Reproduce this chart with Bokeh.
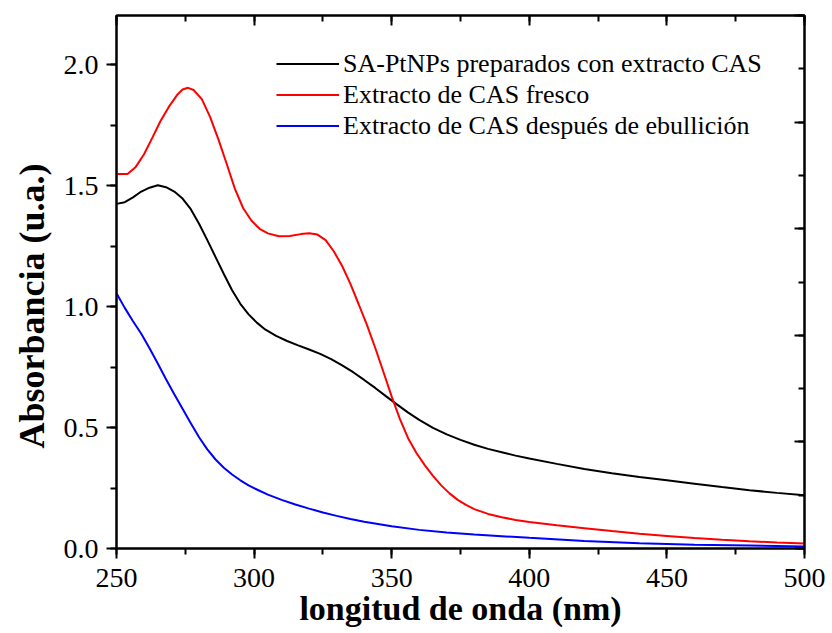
from bokeh.plotting import figure
from bokeh.models import (Range1d, LinearAxis, SingleIntervalTicker, Legend,
                          LegendItem, CustomJSTickFormatter, NumeralTickFormatter, Title)
from bokeh.embed import file_html
from bokeh.resources import INLINE

# UV-Vis absorption spectra (wavelength in nm, absorbance in a.u.)
wl_ptnps = [250, 253, 256, 259, 262, 265, 268, 271, 274, 277, 280, 283, 286, 289,
            292, 295, 298, 301, 304, 308, 312, 316, 320, 324, 328, 332, 336, 340,
            344, 348, 352, 356, 360, 365, 370, 375, 380, 385, 390, 395, 400, 410,
            420, 430, 440, 450, 460, 470, 480, 490, 500]
abs_ptnps = [1.425, 1.432, 1.452, 1.476, 1.492, 1.502, 1.494, 1.476, 1.447, 1.403,
             1.343, 1.275, 1.205, 1.135, 1.068, 1.012, 0.968, 0.934, 0.906, 0.879,
             0.858, 0.840, 0.823, 0.805, 0.783, 0.757, 0.729, 0.697, 0.664, 0.629,
             0.595, 0.562, 0.532, 0.499, 0.472, 0.449, 0.429, 0.412, 0.398, 0.384,
             0.372, 0.350, 0.329, 0.311, 0.296, 0.282, 0.268, 0.254, 0.241, 0.230,
             0.220]

wl_fresh = [250, 254, 257, 260, 263, 266, 269, 272, 274, 276, 278, 281, 284, 287,
            290, 293, 296, 299, 302, 305, 309, 313, 317, 320, 323, 326, 329, 332,
            335, 338, 341, 344, 347, 350, 353, 356, 359, 362, 365, 368, 371, 374,
            377, 380, 385, 390, 395, 400, 410, 420, 430, 440, 450, 460, 470, 480,
            490, 500]
abs_fresh = [1.549, 1.549, 1.578, 1.630, 1.698, 1.768, 1.826, 1.875, 1.898, 1.905,
             1.896, 1.858, 1.785, 1.693, 1.592, 1.488, 1.408, 1.356, 1.322, 1.303,
             1.291, 1.292, 1.300, 1.304, 1.298, 1.275, 1.228, 1.168, 1.094, 1.010,
             0.925, 0.830, 0.730, 0.628, 0.535, 0.455, 0.395, 0.345, 0.300, 0.261,
             0.228, 0.201, 0.180, 0.163, 0.143, 0.129, 0.118, 0.110, 0.096, 0.084,
             0.072, 0.061, 0.052, 0.043, 0.036, 0.030, 0.025, 0.021]

wl_boiled = [250, 253, 256, 259, 262, 265, 268, 271, 274, 277, 280, 283, 286, 289,
             292, 295, 298, 301, 305, 310, 315, 320, 325, 330, 335, 340, 350, 360,
             370, 380, 390, 400, 420, 440, 460, 480, 500]
abs_boiled = [1.055, 0.995, 0.940, 0.888, 0.828, 0.765, 0.700, 0.638, 0.578, 0.518,
              0.460, 0.410, 0.368, 0.334, 0.306, 0.282, 0.261, 0.244, 0.223, 0.201,
              0.182, 0.165, 0.149, 0.135, 0.122, 0.111, 0.092, 0.077, 0.066, 0.058,
              0.051, 0.044, 0.031, 0.022, 0.016, 0.012, 0.008]

labels = ["SA-PtNPs preparados con extracto CAS",
          "Extracto de CAS fresco",
          "Extracto de CAS después de ebullición"]
colors = ["#000000", "#ff0000", "#0000ff"]
x_title = "longitud de onda (nm)"
y_title = "Absorbancia (u.a.)"

SERIF = "Liberation Serif"

p = figure(width=832, height=633, x_range=Range1d(250, 500), y_range=Range1d(0, 2.204),
           output_backend="svg", toolbar_location=None,
           min_border_left=115, min_border_right=28, min_border_top=15, min_border_bottom=85)
p.grid.visible = False
p.outline_line_color = "black"
p.outline_line_width = 2
p.background_fill_color = "white"
p.border_fill_color = "white"

r1 = p.line(wl_ptnps, abs_ptnps, line_color=colors[0], line_width=2)
r2 = p.line(wl_fresh, abs_fresh, line_color=colors[1], line_width=2)
r3 = p.line(wl_boiled, abs_boiled, line_color=colors[2], line_width=2)


def style_axis(ax, inward=False):
    ax.axis_line_width = 2
    ax.axis_line_color = "black"
    ax.major_tick_line_width = 2
    ax.minor_tick_line_width = 2
    if inward:
        ax.major_tick_in, ax.major_tick_out = 10, 0
        ax.minor_tick_in, ax.minor_tick_out = 6, 0
    else:
        ax.major_tick_in, ax.major_tick_out = 0, 10
        ax.minor_tick_in, ax.minor_tick_out = 0, 6
    ax.major_label_text_font = SERIF
    ax.major_label_text_font_size = "28px"
    ax.major_label_text_color = "black"
    ax.axis_label_text_font = SERIF
    ax.axis_label_text_font_style = "bold"
    ax.axis_label_text_font_size = "34px"
    ax.axis_label_text_color = "black"


xax = p.xaxis[0]
xax.ticker = SingleIntervalTicker(interval=50, num_minor_ticks=2)
xax.axis_label = x_title
style_axis(xax)
xax.major_label_standoff = 10
xax.axis_label_standoff = 0

yax = p.yaxis[0]
yax.ticker = SingleIntervalTicker(interval=0.5, num_minor_ticks=2)
yax.formatter = NumeralTickFormatter(format="0.0")
style_axis(yax)
yax.major_label_standoff = 8

# y title, starting a fixed distance above the bottom of the frame
p.add_layout(Title(text=y_title, align="left", offset=100, standoff=18,
                   text_font=SERIF, text_font_style="bold", text_font_size="36px",
                   text_color="black"), "left")

# mirrored frame axes with inward ticks and no labels
top = LinearAxis(ticker=SingleIntervalTicker(interval=50, num_minor_ticks=2),
                 formatter=CustomJSTickFormatter(code="return ''"), major_label_standoff=0)
style_axis(top, inward=True)
top.major_label_text_font_size = "1px"
p.add_layout(top, "above")

p.extra_y_ranges = {"right": Range1d(0, 5)}
right = LinearAxis(y_range_name="right",
                   ticker=SingleIntervalTicker(interval=1, num_minor_ticks=2),
                   formatter=CustomJSTickFormatter(code="return ''"), major_label_standoff=0)
style_axis(right, inward=True)
right.major_label_text_font_size = "1px"
p.add_layout(right, "right")

legend = Legend(items=[LegendItem(label=labels[0], renderers=[r1]),
                       LegendItem(label=labels[1], renderers=[r2]),
                       LegendItem(label=labels[2], renderers=[r3])],
                location=(160, 407), background_fill_alpha=0, border_line_color=None,
                padding=0, margin=0, spacing=0, glyph_height=31, glyph_width=63,
                label_height=31, label_standoff=4, label_text_font=SERIF,
                label_text_font_size="26px", label_text_color="black")
p.add_layout(legend, "center")

open("out.html", "w").write(file_html(p, INLINE))
